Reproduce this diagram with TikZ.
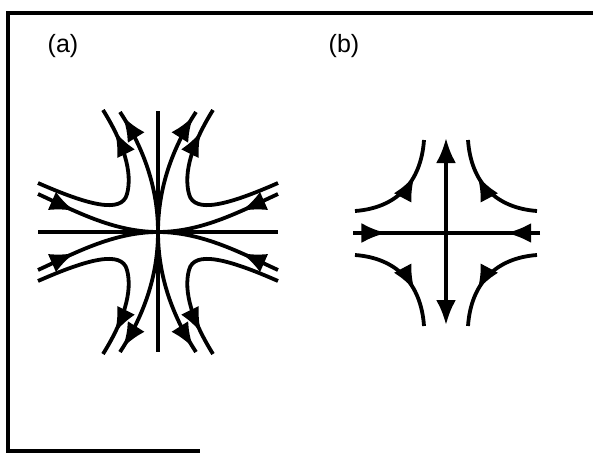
\documentclass[tikz,border=0pt]{standalone}
\usepackage{fontspec}
\setmainfont{Liberation Sans}
\usetikzlibrary{arrows.meta,decorations.markings}

\tikzset{
    flowline/.style={line width=3.8pt},
    flowat/.style={
        postaction={decorate},
        decoration={markings,
            mark=at position #1 with {\arrow{Latex[length=25pt,width=20pt]}}}
    },
    panellabel/.style={font=\fontsize{25}{28}\selectfont, inner sep=0pt}
}

\begin{document}
\begin{tikzpicture}[x=1pt,y=-1pt]
\useasboundingbox (0,0) rectangle (593,453);

% frame
\draw[line width=4pt] (593,13) -- (8,13) -- (8,451) -- (200,451);

\node[panellabel] (lbla) at (63,46) {(a)};
\node[panellabel] (lblb) at (344,46) {(b)};

% (a)
\coordinate (ca) at (158,232);
\coordinate (aleft) at (38,232);
\coordinate (aright) at (278,232);
\coordinate (atop) at (158,111);
\coordinate (abot) at (158,352);
\draw[flowline] (aleft) -- (aright);
\draw[flowline] (atop) -- (abot);
\foreach \sx/\sy in {1/1,-1/1,1/-1,-1/-1}{
    \begin{scope}[shift={(ca)},xscale=\sx,yscale=\sy]
        \draw[flowline,flowat=0.32] (-120,-38) .. controls (-85,-22) and (-45,0) .. (0,0);
        \draw[flowline,flowat=0.96] (0,0) .. controls (0,-45) and (-15,-85) .. (-38,-120);
        \draw[flowline,flowat=0.87] (-120,-49) .. controls (-70,-27) and (-36,-18) .. (-31,-38)
            .. controls (-25,-60) and (-35,-90) .. (-55,-122);
    \end{scope}
}

% (b)
\coordinate (cb) at (446,233);
\coordinate (bleft) at (353,233);
\coordinate (bright) at (540,233);
\coordinate (btop) at (446,138);
\coordinate (bbot) at (446,325);
\draw[flowline,flowat=0.36] (bleft) -- (cb);
\draw[flowline,flowat=0.36] (bright) -- (cb);
\draw[flowline,{Latex[length=25pt,width=20pt]}-{Latex[length=25pt,width=20pt]}] (bbot) -- (btop);
\foreach \sx/\sy in {1/1,-1/1,1/-1,-1/-1}{
    \draw[flowline,flowat=0.66,shift={(cb)},xscale=\sx,yscale=\sy]
        (-91,-22) .. controls (-50,-25) and (-25,-50) .. (-22,-93);
}
\end{tikzpicture}
\end{document}
